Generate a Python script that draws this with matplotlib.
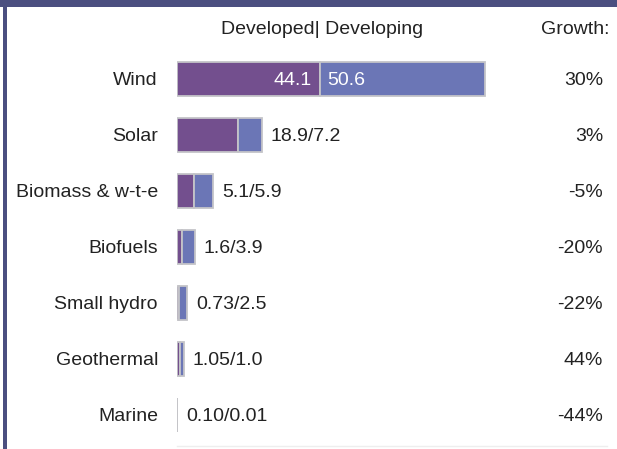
import matplotlib
matplotlib.use("Agg")
import matplotlib.pyplot as plt
from matplotlib.patches import Rectangle
from matplotlib.lines import Line2D
import matplotlib.transforms as mtransforms

categories = ["Wind", "Solar", "Biomass & w-t-e", "Biofuels", "Small hydro", "Geothermal", "Marine"]
developed = [44.1, 18.9, 5.1, 1.6, 0.73, 1.05, 0.10]
developing = [50.6, 7.2, 5.9, 3.9, 2.5, 1.0, 0.01]
value_labels = ["44.1", "18.9/7.2", "5.1/5.9", "1.6/3.9", "0.73/2.5", "1.05/1.0", "0.10/0.01"]
growth = ["30%", "3%", "-5%", "-20%", "-22%", "44%", "-44%"]

plt.rcParams['font.family'] = ['Liberation Sans', 'DejaVu Sans']

W, H = 617, 449
fig = plt.figure(figsize=(W / 100, H / 100), dpi=100)
fig.patch.set_facecolor("white")

def fx(px):
    return px / W

def fy(py):
    return 1 - py / H

# borders
fig.patches.append(Rectangle((0, fy(7)), 1, 7 / H, transform=fig.transFigure,
                             facecolor="#4b4f80", edgecolor="none", zorder=5))
fig.patches.append(Rectangle((fx(3), 0), 3.5 / W, 1, transform=fig.transFigure,
                             facecolor="#4b4f80", edgecolor="none", zorder=5))
fig.lines.append(Line2D([fx(177), fx(607)], [fy(445.5), fy(445.5)], transform=fig.transFigure,
                        color="#eeeeee", lw=1))

ax_left, ax_right = 177, 502
ax_top, ax_bot = 51, 443
ax = fig.add_axes([fx(ax_left), fy(ax_bot), (ax_right - ax_left) / W, (ax_bot - ax_top) / H])
ax.set_xlim(0, 100)
ax.set_ylim(len(categories) - 0.5, -0.5)
ax.axis("off")

c_dev = "#734f8e"
c_ding = "#6b76b6"
edge = "#c4c4c8"
bh = 0.61
ys = list(range(len(categories)))
ax.barh(ys, developed, height=bh, color=c_dev, edgecolor=edge, linewidth=1.3)
ax.barh(ys, developing, left=developed, height=bh, color=c_ding, edgecolor=edge, linewidth=1.3)

fs = 14
txtc = "#222222"
label_tr = mtransforms.blended_transform_factory(fig.transFigure, ax.transData)
for i, cat in enumerate(categories):
    ax.text(fx(158), i + 0.02, cat, transform=label_tr, ha="right", va="center", fontsize=fs, color=txtc)
    ax.text(fx(603), i + 0.02, growth[i], transform=label_tr, ha="right", va="center", fontsize=fs, color=txtc)
    if i == 0:
        ax.annotate(value_labels[i], (developed[i], i + 0.02), xytext=(-6, 0), textcoords="offset points",
                    ha="right", va="center", fontsize=fs, color="white")
        ax.annotate(f"{developing[i]}", (developed[i], i + 0.02), xytext=(5, 0), textcoords="offset points",
                    ha="left", va="center", fontsize=fs, color="white")
    else:
        ax.annotate(value_labels[i], (developed[i] + developing[i], i + 0.02), xytext=(6.5, 0),
                    textcoords="offset points", ha="left", va="center", fontsize=fs, color=txtc)

fig.text(fx(322), fy(30), "Developed| Developing", ha="center", va="center", fontsize=fs, color=txtc)
fig.text(fx(609), fy(30), "Growth:", ha="right", va="center", fontsize=fs, color=txtc)

fig.savefig("out.png", dpi=100)
